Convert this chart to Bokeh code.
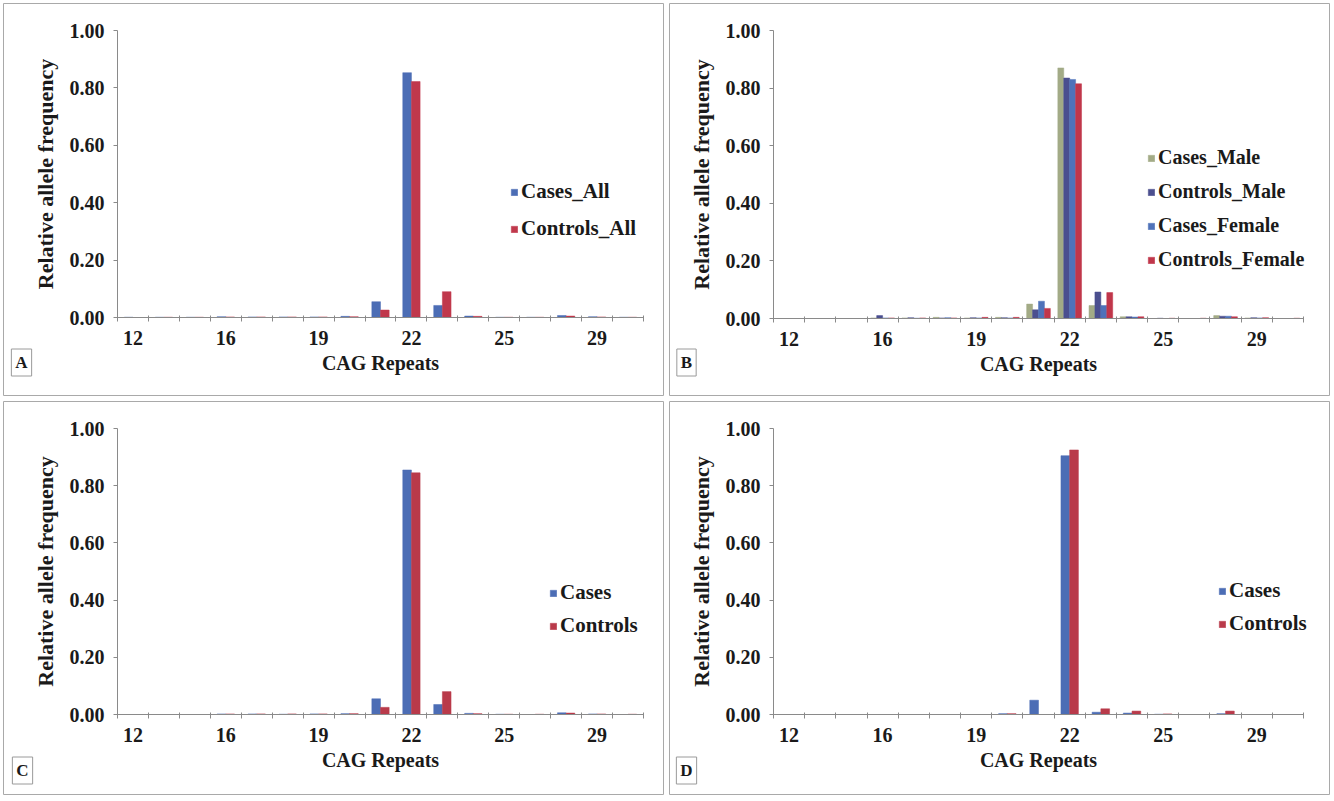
from bokeh.plotting import figure
from bokeh.models import (Range1d, FixedTicker, NumeralTickFormatter, ColumnDataSource,
                          Legend, LegendItem, Label)
from bokeh.transform import dodge
from bokeh.layouts import column, row
from bokeh.embed import file_html
from bokeh.resources import INLINE

# ---------------- data ----------------
cag_repeats = ["12", "14", "15", "16", "17", "18", "19", "20", "21", "22",
               "23", "24", "25", "26", "28", "29", "30"]
shown_labels = ["12", "16", "19", "22", "25", "29"]
y_ticks = [0.0, 0.2, 0.4, 0.6, 0.8, 1.0]

# Panel A
cases_all = [0.001, 0.001, 0.001, 0.003, 0.002, 0.002, 0.002, 0.004, 0.055, 0.853,
             0.042, 0.005, 0.001, 0.001, 0.007, 0.003, 0.001]
controls_all = [0.000, 0.001, 0.001, 0.002, 0.002, 0.002, 0.002, 0.003, 0.026, 0.822,
                0.090, 0.004, 0.001, 0.001, 0.005, 0.002, 0.001]
# Panel B
cases_male = [0.0, 0.0, 0.0, 0.002, 0.002, 0.004, 0.002, 0.004, 0.050, 0.870,
              0.045, 0.006, 0.0, 0.0, 0.010, 0.002, 0.0]
controls_male = [0.0, 0.0, 0.0, 0.010, 0.003, 0.002, 0.003, 0.003, 0.030, 0.835,
                 0.092, 0.006, 0.001, 0.0, 0.008, 0.003, 0.0]
cases_female = [0.0, 0.0, 0.0, 0.002, 0.001, 0.003, 0.002, 0.002, 0.060, 0.830,
                0.045, 0.005, 0.0, 0.0, 0.008, 0.002, 0.0]
controls_female = [0.0, 0.0, 0.0, 0.002, 0.002, 0.002, 0.004, 0.004, 0.035, 0.815,
                   0.090, 0.006, 0.001, 0.001, 0.006, 0.003, 0.001]
# Panel C
cases_c = [0.0, 0.0, 0.0, 0.002, 0.002, 0.001, 0.002, 0.003, 0.055, 0.855,
           0.035, 0.004, 0.001, 0.0, 0.006, 0.002, 0.0]
controls_c = [0.0, 0.0, 0.0, 0.002, 0.002, 0.002, 0.002, 0.003, 0.025, 0.845,
              0.080, 0.003, 0.001, 0.001, 0.005, 0.002, 0.001]
# Panel D
cases_d = [0.0, 0.0, 0.0, 0.0, 0.0, 0.0, 0.0, 0.003, 0.050, 0.905,
           0.008, 0.005, 0.001, 0.0, 0.003, 0.0, 0.0]
controls_d = [0.0, 0.0, 0.0, 0.0, 0.0, 0.0, 0.0, 0.003, 0.000, 0.925,
              0.020, 0.012, 0.002, 0.0, 0.012, 0.0, 0.0]

FONT = "Liberation Serif"
AXIS_COLOR = "#8a8a8a"
TEXT_COLOR = "#1a1a1a"
W = 666
INSET = 3


def make_panel(letter, names, values, colors, bar_w, H, ax_px, y_px,
               leg_px, leg_spacing, leg_font, letter_px):
    """ax_px: pixel x of first/last category boundary; y_px: pixel y of 0 and 1;
    leg_px: (x of legend marker, y of legend bottom); letter_px: centre of letter box."""
    n = len(cag_repeats)
    centers = [i + 0.5 for i in range(n)]
    data = {"x": centers}
    for k, v in enumerate(values):
        data["s%d" % k] = v
    src = ColumnDataSource(data)

    # frame covers the whole panel (inset), axes drawn at fixed locations inside it
    fl, fr, ft, fb = INSET, W - INSET, INSET, H - INSET
    xs = (ax_px[1] - ax_px[0]) / float(n)
    ys = (y_px[0] - y_px[1]) / 1.0
    x_range = Range1d((fl - ax_px[0]) / xs, (fr - ax_px[0]) / xs)
    y_range = Range1d((y_px[0] - fb) / ys, (y_px[0] - ft) / ys)

    p = figure(width=W, height=H, x_range=x_range, y_range=y_range,
               output_backend="svg", toolbar_location=None,
               min_border_left=INSET, min_border_right=INSET,
               min_border_top=INSET, min_border_bottom=INSET)
    p.outline_line_color = "#a9a9a9"
    p.outline_line_width = 1
    p.xgrid.visible = False
    p.ygrid.visible = False
    p.background_fill_color = "white"
    p.border_fill_color = "white"

    m = len(values)
    items = []
    for k in range(m):
        off = (k - (m - 1) / 2.0) * bar_w
        r = p.vbar(x=dodge("x", off, range=p.x_range), top="s%d" % k, width=bar_w,
                   source=src, fill_color=colors[k], line_color=colors[k], line_width=0.5)
        items.append(LegendItem(label=names[k], renderers=[r]))

    # x axis: boundary tick marks, labels every third category
    label_pos = [i + 0.5 for i, c in enumerate(cag_repeats) if c in shown_labels]
    p.xaxis.fixed_location = 0
    p.xaxis.bounds = (0, n)
    p.xaxis.ticker = FixedTicker(ticks=label_pos, minor_ticks=list(range(n + 1)))
    p.xaxis.major_label_overrides = {i + 0.5: c for i, c in enumerate(cag_repeats) if c in shown_labels}
    p.xaxis.major_tick_line_color = None
    p.xaxis.major_tick_out = 4
    p.xaxis.major_tick_in = 0
    p.xaxis.minor_tick_line_color = AXIS_COLOR
    p.xaxis.minor_tick_out = 4
    p.xaxis.minor_tick_in = 2
    p.xaxis.major_label_standoff = 9
    p.xaxis.axis_label = "CAG Repeats"
    p.xaxis.axis_label_standoff = 4

    p.yaxis.fixed_location = 0
    p.yaxis.bounds = (0, 1)
    p.yaxis.ticker = FixedTicker(ticks=y_ticks)
    p.yaxis.formatter = NumeralTickFormatter(format="0.00")
    p.yaxis.major_tick_out = 4
    p.yaxis.major_tick_in = 0
    p.yaxis.minor_tick_line_color = None
    p.yaxis.major_tick_line_color = AXIS_COLOR
    p.yaxis.major_label_standoff = 9
    p.yaxis.axis_label = "Relative allele frequency"
    p.yaxis.axis_label_standoff = 9

    for ax in (p.xaxis, p.yaxis):
        ax.axis_line_color = AXIS_COLOR
        ax.major_label_text_font = FONT
        ax.major_label_text_font_style = "bold"
        ax.major_label_text_font_size = "20px"
        ax.major_label_text_color = TEXT_COLOR
        ax.axis_label_text_font = FONT
        ax.axis_label_text_font_style = "bold"
        ax.axis_label_text_color = TEXT_COLOR
    p.xaxis.axis_label_text_font_size = "20px"
    p.yaxis.axis_label_text_font_size = "22px"

    leg = Legend(items=items, location=(leg_px[0] - fl, fb - leg_px[1]),
                 border_line_color=None,
                 background_fill_alpha=0, padding=0, margin=0, spacing=leg_spacing,
                 glyph_width=8, glyph_height=8, label_height=22, label_standoff=3,
                 label_text_font=FONT, label_text_font_style="bold",
                 label_text_font_size=leg_font, label_text_color=TEXT_COLOR)
    p.add_layout(leg)

    lab = Label(x=letter_px[0] - fl, y=fb - letter_px[1], x_units="screen", y_units="screen",
                text=letter, text_align="center", text_baseline="middle",
                text_font=FONT, text_font_style="bold", text_font_size="17px",
                text_color=TEXT_COLOR, border_line_color="#9a9a9a",
                background_fill_color="white", padding=4)
    p.add_layout(lab)
    return p


blue = "#4c6db5"
red = "#c0384c"
pA = make_panel("A", ["Cases_All", "Controls_All"], [cases_all, controls_all],
                [blue, red], 0.28, 398, (117, 643), (317, 30),
                (510, 241), 12, "21px", (21, 362))
pB = make_panel("B", ["Cases_Male", "Controls_Male", "Cases_Female", "Controls_Female"],
                [cases_male, controls_male, cases_female, controls_female],
                ["#a3ab86", "#4b4f8f", "#4f72b9", "#c0364a"], 0.19, 398, (107, 637), (318, 30),
                (481, 271), 11, "20px", (20, 362))
pC = make_panel("C", ["Cases", "Controls"], [cases_c, controls_c],
                [blue, "#b93a4a"], 0.28, 399, (117, 643), (316, 30),
                (549, 240), 8, "21px", (22, 372))
pD = make_panel("D", ["Cases", "Controls"], [cases_d, controls_d],
                [blue, "#b93a4a"], 0.28, 399, (107, 637), (316, 30),
                (552, 238), 8, "21px", (20, 372))

layout = column(row(pA, pB), row(pC, pD))
open("out.html", "w").write(file_html(layout, INLINE))
